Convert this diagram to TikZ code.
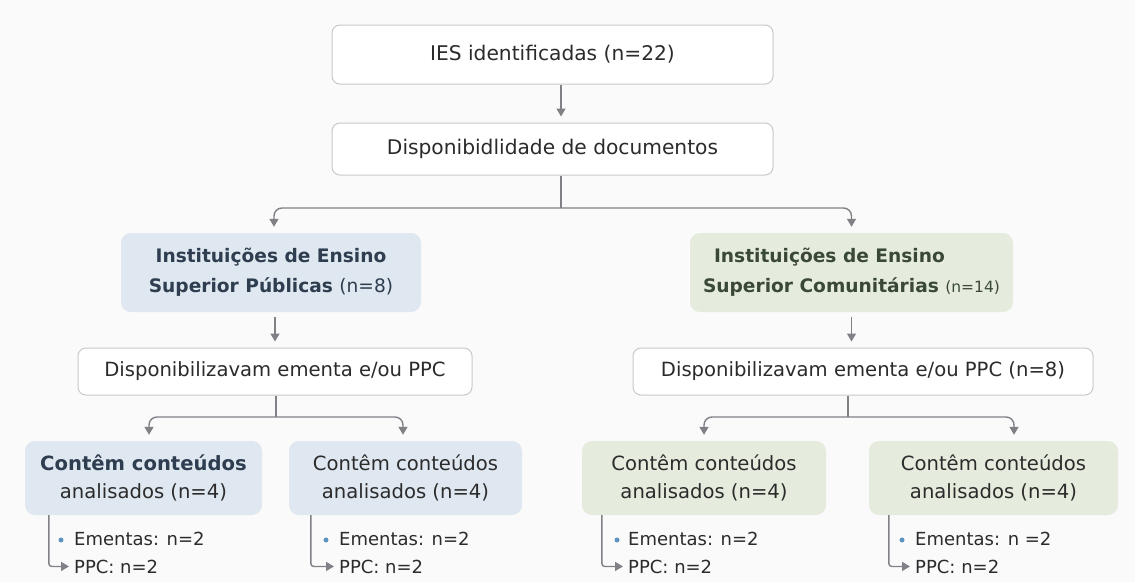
\documentclass[tikz,border=0pt]{standalone}
\usepackage{fontspec}
\setmainfont{DejaVu Sans}
\usetikzlibrary{arrows.meta,calc}
\definecolor{bg}{HTML}{FAFAFA}
\definecolor{boxline}{HTML}{C9C9C9}
\definecolor{arrowgray}{HTML}{808087}
\definecolor{txt}{HTML}{2B2B2B}
\definecolor{bluefill}{HTML}{DFE7F0}
\definecolor{greenfill}{HTML}{E5ECDD}
\definecolor{bluetxt}{HTML}{2E3D4F}
\definecolor{greentxt}{HTML}{3A4838}
\definecolor{dotblue}{HTML}{5F93C2}
\tikzset{
  plain/.style={draw=boxline, fill=white, rounded corners=8, line width=1pt, inner sep=0pt, align=center, text=txt, font=\fontsize{19.6}{24}\selectfont},
  bluebox/.style={fill=bluefill, rounded corners=10, inner sep=0pt, align=center, text=txt},
  greenbox/.style={fill=greenfill, rounded corners=10, inner sep=0pt, align=center, text=txt},
  conn/.style={draw=arrowgray, line width=1.4pt, rounded corners=8},
  arr/.style={conn, -{Triangle[length=8pt,width=9pt]}, shorten >=6pt},
  item/.style={inner sep=0pt, anchor=base west, text=txt, font=\fontsize{18}{22}\selectfont},
  dot/.style={circle, fill=dotblue, inner sep=0pt, minimum size=5pt},
  bigfont/.style={font=\bfseries\fontsize{18.6}{30}\selectfont},
  smallbox/.style={minimum height=74, font=\fontsize{19.6}{28}\selectfont}
}
\begin{document}
\begin{tikzpicture}[x=1pt,y=-1pt]
\fill[bg] (0,0) rectangle (1135,582);
\useasboundingbox (0,0) rectangle (1135,582);

% top level
\node[plain, minimum width=441, minimum height=59, font=\fontsize{20.2}{24}\selectfont] (top) at (552.5,54.5) {IES identificadas (n=22)};
\node[plain, minimum width=441, minimum height=52, font=\fontsize{20.2}{24}\selectfont] (dd) at (552.5,149) {Disponibidlidade de documentos};
\coordinate (spine) at (561,0);
\draw[arr] (top.south -| spine) -- (dd.north -| spine);

% institution boxes
\node[bluebox, bigfont, text=bluetxt, minimum width=300, minimum height=79] (pub) at (271,272.5)
  {Instituições de Ensino\\Superior Públicas {\mdseries\fontsize{18.6}{30}\selectfont(n=8)}};
\node[greenbox, bigfont, text=greentxt, align=left, minimum width=323, minimum height=79] (com) at (851.5,272.5)
  {\hspace*{11pt}Instituições de Ensino\\Superior Comunitárias {\mdseries\fontsize{15.5}{30}\selectfont(n=14)}};

\coordinate (f1) at (561,208);
\draw[conn] (dd.south -| f1) -- (f1);
\draw[arr] (f1) -| ([xshift=3pt]pub.north);
\draw[arr] (f1) -| (com.north);

% availability boxes
\node[plain, minimum width=394, minimum height=47] (dispL) at (275,371.5) {Disponibilizavam ementa e/ou PPC};
\node[plain, minimum width=460, minimum height=47] (dispR) at (863,371.5) {Disponibilizavam ementa e/ou PPC (n=8)};
\draw[arr, shorten <=5pt] (dispL.north |- pub.south) -- (dispL.north);
\draw[arr, shorten <=5pt] (com.south) -- (com.south |- dispR.north);

% content boxes
\node[bluebox, smallbox, minimum width=237] (b1) at (143.5,478)
  {{\bfseries\color{bluetxt}Contêm conteúdos}\\analisados (n=4)};
\node[bluebox, smallbox, minimum width=233] (b2) at (405.5,478)
  {Contêm conteúdos\\analisados (n=4)};
\node[greenbox, smallbox, minimum width=244] (b3) at (704,478)
  {Contêm conteúdos\\analisados (n=4)};
\node[greenbox, smallbox, minimum width=249] (b4) at (993.5,478)
  {Contêm conteúdos\\analisados (n=4)};

\coordinate (fL) at (276,417);
\draw[conn] (dispL.south -| fL) -- (fL);
\draw[arr] (fL) -| ([xshift=5.5pt]b1.north);
\draw[arr] (fL) -| ([xshift=-2.5pt]b2.north);
\coordinate (fR) at (848,417);
\draw[conn] (dispR.south -| fR) -- (fR);
\draw[arr] (fR) -| (b3.north);
\draw[arr] (fR) -| ([xshift=20.5pt]b4.north);

% sub-items
\node[dot] (d1) at (61,540) {};
\node[item] (e1) at (74,545) {Ementas: n=2};
\node[item] (p1) at (74,573) {PPC: n=2};
\draw[arr, rounded corners=3, shorten >=5pt] ([xshift=24pt]b1.south west) |- (p1.west);

\node[dot] (d2) at (326,540) {};
\node[item] (e2) at (339,545) {Ementas: n=2};
\node[item] (p2) at (339,573) {PPC: n=2};
\draw[arr, rounded corners=3, shorten >=5pt] ([xshift=22pt]b2.south west) |- (p2.west);

\node[dot] (d3) at (617,540) {};
\node[item] (e3) at (628,545) {Ementas: n=2};
\node[item] (p3) at (628,573) {PPC: n=2};
\draw[arr, rounded corners=3, shorten >=5pt] ([xshift=20pt]b3.south west) |- (p3.west);

\node[dot] (d4) at (902,540) {};
\node[item] (e4) at (915,545) {Ementas: n =2};
\node[item] (p4) at (915,573) {PPC: n=2};
\draw[arr, rounded corners=3, shorten >=5pt] ([xshift=20pt]b4.south west) |- (p4.west);
\end{tikzpicture}
\end{document}
